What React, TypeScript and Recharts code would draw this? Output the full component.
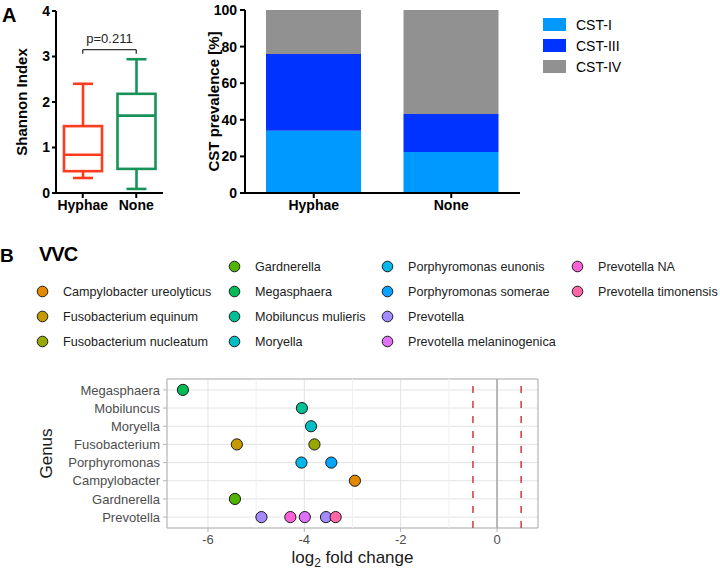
import React from "react";
import {
  Bar,
  BarChart,
  CartesianGrid,
  ComposedChart,
  Label,
  Legend,
  ReferenceArea,
  ReferenceLine,
  Scatter,
  ScatterChart,
  XAxis,
  YAxis,
} from "recharts";

const FONT = "'Liberation Sans', Arial, sans-serif";

// panel A, left: Shannon index box plot
const boxGroups = ["Hyphae", "None"];
const boxMin = [0.33, 0.09];
const boxQ1 = [0.48, 0.53];
const boxMedian = [0.84, 1.7];
const boxQ3 = [1.47, 2.18];
const boxMax = [2.4, 2.94];
const boxColors = ["#FF3B1F", "#17935A"];
const shannonTicks = [0, 1, 2, 3, 4];
const pValueText = "p=0.211";

// panel A, right: CST prevalence
const cstGroups = ["Hyphae", "None"];
const cstI = [34, 22.4];
const cstIII = [42, 20.8];
const cstIV = [24, 56.8];
const cstNames = ["CST-I", "CST-III", "CST-IV"];
const cstColors = ["#0099FF", "#0033FF", "#919191"];
const prevalenceTicks = [0, 20, 40, 60, 80, 100];

// panel B: log2 fold change per genus (bottom to top)
const genera = [
  "Prevotella",
  "Gardnerella",
  "Campylobacter",
  "Porphyromonas",
  "Fusobacterium",
  "Moryella",
  "Mobiluncus",
  "Megasphaera",
];
const speciesNames = [
  "",
  "Campylobacter ureolyticus",
  "Fusobacterium equinum",
  "Fusobacterium nucleatum",
  "Gardnerella",
  "Megasphaera",
  "Mobiluncus mulieris",
  "Moryella",
  "Porphyromonas eunonis",
  "Porphyromonas somerae",
  "Prevotella",
  "Prevotella melaninogenica",
  "Prevotella NA",
  "Prevotella timonensis",
];
const speciesColors = [
  "#F8766D",
  "#E38900",
  "#C49A00",
  "#99A800",
  "#53B400",
  "#00BC56",
  "#00C094",
  "#00BFC4",
  "#00B6EB",
  "#06A4FF",
  "#A58AFF",
  "#DF70F8",
  "#FB61D7",
  "#FF66A8",
];
const pointSpecies = [
  "Megasphaera",
  "Mobiluncus mulieris",
  "Moryella",
  "Fusobacterium equinum",
  "Fusobacterium nucleatum",
  "Porphyromonas eunonis",
  "Porphyromonas somerae",
  "Campylobacter ureolyticus",
  "Gardnerella",
  "Prevotella",
  "Prevotella NA",
  "Prevotella melaninogenica",
  "Prevotella",
  "Prevotella timonensis",
];
const pointGenus = [
  "Megasphaera",
  "Mobiluncus",
  "Moryella",
  "Fusobacterium",
  "Fusobacterium",
  "Porphyromonas",
  "Porphyromonas",
  "Campylobacter",
  "Gardnerella",
  "Prevotella",
  "Prevotella",
  "Prevotella",
  "Prevotella",
  "Prevotella",
];
const pointLfc = [-6.52, -4.05, -3.86, -5.4, -3.79, -4.06, -3.44, -2.95, -5.44, -4.89, -4.29, -3.99, -3.55, -3.35];
const lfcTicks = [-6, -4, -2, 0];
const lfcMinorTicks = [-5, -3, -1];
const lfcThresholds = [-0.5, 0.5];

const boxData = boxGroups.map((g, i) => ({
  group: g,
  min: boxMin[i],
  q1: boxQ1[i],
  median: boxMedian[i],
  q3: boxQ3[i],
  max: boxMax[i],
  color: boxColors[i],
}));

const cstData = cstGroups.map((g, i) => ({
  group: g,
  "CST-I": cstI[i],
  "CST-III": cstIII[i],
  "CST-IV": cstIV[i],
}));

const pointData = pointLfc.map((v, i) => ({
  lfc: v,
  yi: genera.indexOf(pointGenus[i]),
  color: speciesColors[speciesNames.indexOf(pointSpecies[i])],
}));

function BoxShape(props: any) {
  const { x, y, width, height, payload } = props;
  const top = height >= 0 ? y : y + height;
  const h = Math.abs(height);
  const px = (v: number) => top + ((payload.max - v) / (payload.max - payload.min)) * h;
  const cx = x + width / 2;
  const c = payload.color;
  const sw = 2.6;
  return (
    <g>
      <line x1={cx} x2={cx} y1={px(payload.max)} y2={px(payload.q3)} stroke={c} strokeWidth={sw} />
      <line x1={cx} x2={cx} y1={px(payload.q1)} y2={px(payload.min)} stroke={c} strokeWidth={sw} />
      <line x1={cx - 10} x2={cx + 10} y1={px(payload.max)} y2={px(payload.max)} stroke={c} strokeWidth={sw} />
      <line x1={cx - 10} x2={cx + 10} y1={px(payload.min)} y2={px(payload.min)} stroke={c} strokeWidth={sw} />
      <rect
        x={x}
        y={px(payload.q3)}
        width={width}
        height={px(payload.q1) - px(payload.q3)}
        fill="#fff"
        stroke={c}
        strokeWidth={sw}
      />
      <line x1={x} x2={x + width} y1={px(payload.median)} y2={px(payload.median)} stroke={c} strokeWidth={sw} />
    </g>
  );
}

function CstLegend() {
  return (
    <div style={{ fontFamily: FONT, fontSize: 14, color: "#000" }}>
      {cstNames.map((n, i) => (
        <div key={n} style={{ display: "flex", alignItems: "center", height: 21 }}>
          <div style={{ width: 23, height: 13, background: cstColors[i], marginRight: 10 }} />
          <span>{n}</span>
        </div>
      ))}
    </div>
  );
}

function SpeciesLegend() {
  return (
    <div
      style={{
        display: "grid",
        gridAutoFlow: "column",
        gridTemplateRows: "repeat(4, 25px)",
        gridTemplateColumns: "192px 153px 190px 150px",
        paddingLeft: 36,
        fontFamily: FONT,
        fontSize: 12.6,
        color: "#222",
        whiteSpace: "nowrap",
      }}
    >
      {speciesNames.map((n, i) => (
        <div key={i} style={{ display: "flex", alignItems: "center" }}>
          {n ? (
            <>
              <svg width={13} height={13} style={{ marginRight: 14, flexShrink: 0 }}>
                <circle cx={6.5} cy={6.5} r={5.3} fill={speciesColors[i]} stroke="#1a1a1a" strokeWidth={1} />
              </svg>
              <span>{n}</span>
            </>
          ) : null}
        </div>
      ))}
    </div>
  );
}

function LfcLabel(props: any) {
  const vb = props.viewBox;
  return (
    <text x={vb.x + vb.width / 2} y={vb.y + vb.height - 6} textAnchor="middle" fontSize={17} fontFamily={FONT} fill="#1a1a1a">
      <tspan>log</tspan>
      <tspan fontSize={12} dy={4}>2</tspan>
      <tspan dy={-4}> fold change</tspan>
    </text>
  );
}

const boldTick = { fill: "#000", fontSize: 14, fontWeight: "bold", fontFamily: FONT };
const greyTick = { fill: "#4D4D4D", fontSize: 13, fontFamily: FONT };

export default function App() {
  return (
    <div style={{ position: "absolute", left: 0, top: 0, width: 720, height: 569, background: "#fff", fontFamily: FONT }}>
      <div style={{ position: "absolute", left: 2, top: 4, fontSize: 20, fontWeight: "bold" }}>A</div>
      <div style={{ position: "absolute", left: 0, top: 245, fontSize: 19, fontWeight: "bold" }}>B</div>
      <div style={{ position: "absolute", left: 39, top: 243, fontSize: 20, fontWeight: "bold", letterSpacing: -1 }}>VVC</div>

      <div style={{ position: "absolute", left: 0, top: 0 }}>
        <ComposedChart width={175} height={215} data={boxData} margin={{ top: 11, right: 12, bottom: 0, left: 0 }}>
          <XAxis
            dataKey="group"
            height={22}
            tick={boldTick}
            tickSize={5}
            tickMargin={2}
            axisLine={{ stroke: "#000", strokeWidth: 2 }}
            tickLine={{ stroke: "#000", strokeWidth: 2 }}
          />
          <YAxis
            width={56}
            domain={[0, 4]}
            ticks={shannonTicks}
            tick={boldTick}
            tickSize={4}
            tickMargin={2}
            axisLine={{ stroke: "#000", strokeWidth: 2 }}
            tickLine={{ stroke: "#000", strokeWidth: 2 }}
          >
            <Label
              value="Shannon Index"
              angle={-90}
              position="center"
              dx={-6}
              style={{ fontSize: 15, fontWeight: "bold", fill: "#000", fontFamily: FONT }}
            />
          </YAxis>
          <Bar dataKey={(d: any) => [d.min, d.max]} barSize={38} shape={BoxShape} isAnimationActive={false} />
          <ReferenceLine
            segment={[{ x: "Hyphae", y: 3.15 }, { x: "None", y: 3.15 }]}
            stroke="#333"
            strokeWidth={1.3}
            label={{ value: pValueText, position: "top", offset: 7, fill: "#222", fontSize: 13, fontFamily: FONT }}
          />
          <ReferenceLine segment={[{ x: "Hyphae", y: 3.15 }, { x: "Hyphae", y: 3.06 }]} stroke="#333" strokeWidth={1.3} />
          <ReferenceLine segment={[{ x: "None", y: 3.15 }, { x: "None", y: 3.06 }]} stroke="#333" strokeWidth={1.3} />
        </ComposedChart>
      </div>

      <div style={{ position: "absolute", left: 170, top: 0 }}>
        <BarChart width={550} height={215} data={cstData} margin={{ top: 10, right: 200, bottom: 0, left: 0 }}>
          <XAxis
            dataKey="group"
            height={22}
            tick={boldTick}
            tickSize={5}
            tickMargin={2}
            axisLine={{ stroke: "#000", strokeWidth: 2 }}
            tickLine={{ stroke: "#000", strokeWidth: 2 }}
          />
          <YAxis
            width={75}
            domain={[0, 100]}
            ticks={prevalenceTicks}
            tick={boldTick}
            tickSize={5}
            tickMargin={3}
            axisLine={{ stroke: "#000", strokeWidth: 2 }}
            tickLine={{ stroke: "#000", strokeWidth: 2 }}
          >
            <Label
              value="CST prevalence [%]"
              angle={-90}
              position="center"
              dx={6}
              style={{ fontSize: 15, fontWeight: "bold", fill: "#000", fontFamily: FONT }}
            />
          </YAxis>
          {cstNames.map((n, i) => (
            <Bar key={n} dataKey={n} stackId="cst" fill={cstColors[i]} barSize={95} isAnimationActive={false} />
          ))}
          <Legend
            layout="horizontal"
            verticalAlign="middle"
            align="center"
            content={CstLegend}
            wrapperStyle={{ left: 373, top: 14, width: 150 }}
          />
        </BarChart>
      </div>

      <div style={{ position: "absolute", left: 0, top: 230 }}>
        <ScatterChart width={720} height={339} margin={{ top: 149, right: 182, bottom: 0, left: 0 }}>
          <CartesianGrid stroke="#E3E3E3" strokeWidth={1} />
          {lfcMinorTicks.map((t) => (
            <ReferenceLine key={t} x={t} stroke="#EFEFEF" strokeWidth={1} />
          ))}
          <XAxis
            type="number"
            dataKey="lfc"
            domain={[-6.85, 0.85]}
            ticks={lfcTicks}
            height={41}
            tick={greyTick}
            tickSize={4}
            tickMargin={3}
            axisLine={false}
            tickLine={{ stroke: "#B3B3B3" }}
          >
            <Label content={LfcLabel} />
          </XAxis>
          <YAxis
            type="number"
            dataKey="yi"
            domain={[-0.6, 7.6]}
            ticks={genera.map((_, i) => i)}
            interval={0}
            tickFormatter={(v: number) => genera[v]}
            width={167}
            tick={greyTick}
            tickSize={4}
            tickMargin={3}
            axisLine={false}
            tickLine={{ stroke: "#B3B3B3" }}
          >
            <Label
              value="Genus"
              angle={-90}
              position="center"
              dx={-38}
              style={{ fontSize: 17, fill: "#1a1a1a", fontFamily: FONT }}
            />
          </YAxis>
          <ReferenceArea x1={-6.85} x2={0.85} y1={-0.6} y2={7.6} fill="none" stroke="#B3B3B3" strokeWidth={1} />
          <ReferenceLine x={0} stroke="#A8A8A8" strokeWidth={1.6} />
          {lfcThresholds.map((t) => (
            <ReferenceLine key={t} x={t} stroke="#D2383C" strokeWidth={1.5} strokeDasharray="7 8" />
          ))}
          <Scatter
            data={pointData}
            isAnimationActive={false}
            shape={(p: any) => (
              <circle cx={p.cx} cy={p.cy} r={5.6} fill={p.payload.color} stroke="#1a1a1a" strokeWidth={1} />
            )}
          />
          <Legend
            layout="horizontal"
            verticalAlign="middle"
            align="center"
            content={SpeciesLegend}
            wrapperStyle={{ left: 0, top: 24, width: 720 }}
          />
        </ScatterChart>
      </div>
    </div>
  );
}
